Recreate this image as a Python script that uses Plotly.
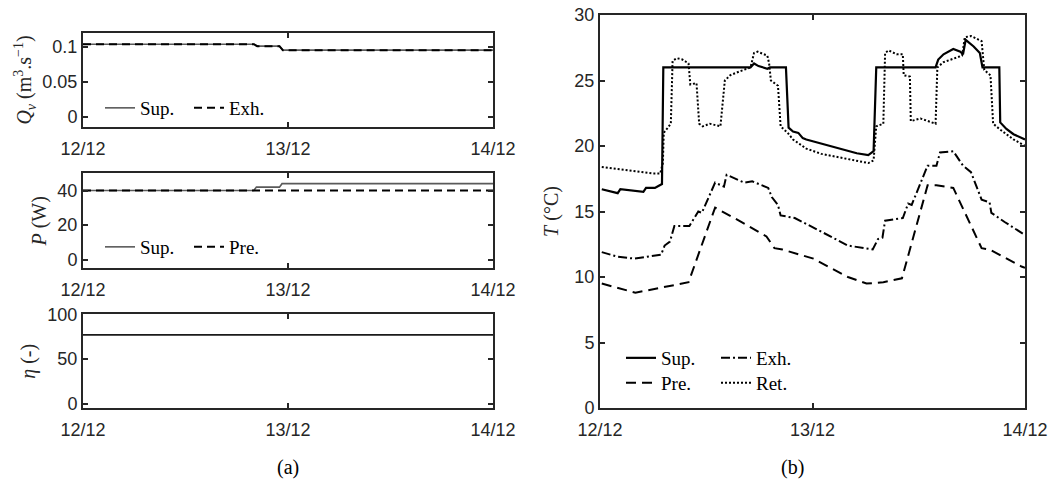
import plotly.graph_objects as go

# ---------------- data ----------------
# time in hours since 12/12 00:00
tick_hours = [0, 24, 48]
tick_labels = ["12/12", "13/12", "14/12"]

# (a) top: volumetric flow rate
qv_hours = [0, 20.0, 20.4, 23.0, 23.4, 48]
qv_sup = [0.104, 0.104, 0.1012, 0.1012, 0.0955, 0.0955]
qv_exh = [0.104, 0.104, 0.1012, 0.1012, 0.0955, 0.0955]

# (a) middle: power
p_hours = [0, 20.0, 20.3, 23.0, 23.3, 48]
p_sup = [40, 40, 42, 42, 44, 44]
p_pre = [40, 40, 40, 40, 40, 40]

# (a) bottom: efficiency
eta_hours = [0, 48]
eta_vals = [77, 77]

# (b) temperatures
sup_h = [0.2, 2.0, 2.3, 4.9, 5.2, 6.2, 7.0, 7.15, 17.0, 17.4, 17.9, 18.9, 19.2, 21.0,
         21.3, 21.8, 22.4, 22.9, 23.3, 25.0, 27.0, 29.0, 30.3, 30.9, 31.2, 37.9, 38.2,
         38.8, 39.9, 40.7, 41.0, 41.3, 42.2, 42.9, 43.2, 45.1, 45.2, 45.9, 46.7, 48.0]
sup_t = [16.7, 16.4, 16.7, 16.5, 16.8, 16.8, 17.1, 26.0, 26.0, 26.3, 26.1, 25.9, 26.0, 26.0,
         21.4, 21.1, 21.0, 20.6, 20.5, 20.2, 19.8, 19.45, 19.3, 19.6, 26.0, 26.0, 26.6,
         27.0, 27.4, 27.2, 27.0, 28.1, 27.6, 27.1, 26.0, 26.0, 21.8, 21.3, 20.9, 20.5]

exh_h = [0.2, 2.0, 3.9, 6.9, 7.3, 7.9, 8.4, 10.1, 11.1, 11.5, 13.0, 14.0, 14.3, 16.3, 17.2,
         19.0, 19.4, 20.1, 20.4, 22.0, 24.6, 28.0, 30.8, 31.4, 31.9, 32.2, 34.2, 34.8,
         35.2, 37.0, 38.0, 38.4, 39.9, 41.0, 41.9, 43.1, 44.0, 44.2, 45.7, 48.0]
exh_t = [11.9, 11.55, 11.4, 11.7, 12.4, 12.7, 13.9, 13.9, 15.0, 14.9, 17.2, 16.9, 17.8, 17.2,
         17.3, 16.8, 16.1, 15.5, 14.7, 14.5, 13.6, 12.4, 12.1, 12.9, 13.0, 14.3, 14.5, 15.6,
         15.5, 18.5, 18.5, 19.5, 19.6, 18.5, 18.0, 15.9, 15.7, 14.9, 14.2, 13.2]

pre_h = [0.2, 4.0, 10.0, 13.0, 16.5, 18.8, 19.7, 20.6, 24.1, 28.0, 30.1, 32.0, 34.1, 37.0,
         38.0, 39.9, 43.1, 44.0, 47.6, 48.0]
pre_t = [9.5, 8.8, 9.6, 15.3, 14.0, 13.1, 12.2, 12.1, 11.4, 10.0, 9.5, 9.6, 9.9, 17.0,
         17.0, 16.8, 12.2, 12.1, 10.8, 10.7]

ret_h = [0.2, 2.6, 6.0, 6.8, 7.1, 7.2, 7.8, 8.0, 8.2, 8.7, 9.3, 10.0, 10.2, 10.9, 11.2,
         11.6, 12.4, 13.6, 14.1, 14.7, 15.8, 17.0, 17.4, 17.8, 18.9, 19.1, 19.3, 20.1,
         20.4, 21.2, 21.8, 23.3, 25.0, 27.1, 30.3, 30.9, 31.2, 32.0, 32.2, 32.6, 33.5,
         34.2, 34.3, 35.0, 35.1, 36.2, 37.9, 38.1, 38.8, 40.9, 41.2, 41.9, 43.1, 43.4,
         44.1, 44.4, 45.3, 46.7, 48.0]
ret_t = [18.4, 18.2, 17.9, 17.9, 18.7, 21.0, 21.6, 21.7, 26.5, 26.7, 26.6, 26.3, 24.7, 24.8,
         21.7, 21.5, 21.7, 21.5, 25.0, 25.4, 25.7, 26.0, 27.1, 27.2, 26.9, 26.3, 25.0, 24.6,
         21.5, 21.0, 20.5, 19.8, 19.4, 19.1, 18.7, 18.9, 21.5, 21.7, 27.1, 27.3, 27.0,
         27.0, 25.4, 25.3, 21.9, 22.1, 21.7, 26.0, 26.4, 26.9, 28.3, 28.4, 28.0, 25.8,
         25.4, 21.7, 21.2, 20.5, 20.0]

# ---------------- figure ----------------
W, H = 1053, 481
AX = "#262626"
GRAY = "#5a5a5a"
SERIF = "Liberation Serif, Times New Roman, serif"
SANS = "Liberation Sans, Arial, Helvetica, sans-serif"

fig = go.Figure()

# (a) Qv
fig.add_trace(go.Scatter(x=qv_hours, y=qv_sup, mode="lines", name="Sup.",
                         line=dict(color=GRAY, width=1.6), xaxis="x", yaxis="y", legend="legend"))
fig.add_trace(go.Scatter(x=qv_hours, y=qv_exh, mode="lines", name="Exh.",
                         line=dict(color="black", width=2, dash="8px,5px"),
                         xaxis="x", yaxis="y", legend="legend"))
# (a) P
fig.add_trace(go.Scatter(x=p_hours, y=p_sup, mode="lines", name="Sup.",
                         line=dict(color=GRAY, width=1.6), xaxis="x2", yaxis="y2", legend="legend2"))
fig.add_trace(go.Scatter(x=p_hours, y=p_pre, mode="lines", name="Pre.",
                         line=dict(color="black", width=2, dash="8px,5px"),
                         xaxis="x2", yaxis="y2", legend="legend2"))
# (a) eta
fig.add_trace(go.Scatter(x=eta_hours, y=eta_vals, mode="lines", showlegend=False,
                         line=dict(color="#1a1a1a", width=1.8), xaxis="x3", yaxis="y3"))

# (b) temperatures
fig.add_trace(go.Scatter(x=sup_h, y=sup_t, mode="lines", name="Sup.",
                         line=dict(color="black", width=2.2), xaxis="x4", yaxis="y4", legend="legend3"))
fig.add_trace(go.Scatter(x=exh_h, y=exh_t, mode="lines", name="Exh.",
                         line=dict(color="black", width=2, dash="9px,3px,2px,3px"),
                         xaxis="x4", yaxis="y4", legend="legend3"))
fig.add_trace(go.Scatter(x=pre_h, y=pre_t, mode="lines", name="Pre.",
                         line=dict(color="black", width=2, dash="10px,6px"),
                         xaxis="x4", yaxis="y4", legend="legend4"))
fig.add_trace(go.Scatter(x=ret_h, y=ret_t, mode="lines", name="Ret.",
                         line=dict(color="black", width=2, dash="2px,2px"),
                         xaxis="x4", yaxis="y4", legend="legend4"))


def py(px):
    return 1 - px / H


def px_x(px):
    return px / W


common_axis = dict(showline=True, linecolor=AX, linewidth=2, mirror="ticks",
                   ticks="inside", ticklen=5, tickwidth=1.5, tickcolor=AX,
                   showgrid=False, zeroline=False, automargin=False,
                   ticklabeloverflow="allow",
                   tickfont=dict(family=SANS, size=18, color=AX))

xa_dom = [px_x(83), px_x(493)]
xb_dom = [px_x(600), px_x(1025)]

xcommon = dict(common_axis, range=[0, 48], tickvals=tick_hours, ticktext=tick_labels,
               ticklabelstandoff=4)
TFONT = dict(family=SERIF, size=20, color=AX)

layout = dict(
    width=W, height=H,
    margin=dict(l=0, r=0, t=0, b=0, pad=0, autoexpand=False),
    paper_bgcolor="white", plot_bgcolor="white",
    xaxis=dict(xcommon, domain=xa_dom, anchor="y"),
    yaxis=dict(common_axis, domain=[py(127), py(33)], anchor="x", range=[-0.0143, 0.12],
               tickvals=[0, 0.05, 0.1], ticktext=["0", "0.05", "0.1"],
               title=dict(text="<i>Q</i><sub><i>v</i></sub> (m<sup>3</sup>.s<sup>−1</sup>)",
                          font=TFONT, standoff=5)),
    xaxis2=dict(xcommon, domain=xa_dom, anchor="y2"),
    yaxis2=dict(common_axis, domain=[py(268.3), py(173.3)], anchor="x2", range=[-5, 50],
                tickvals=[0, 20, 40], ticktext=["0", "20", "40"],
                title=dict(text="<i>P</i> (W)", font=TFONT, standoff=5)),
    xaxis3=dict(xcommon, domain=xa_dom, anchor="y3"),
    yaxis3=dict(common_axis, domain=[py(408.3), py(314.3)], anchor="x3", range=[-5, 100],
                tickvals=[0, 50, 100], ticktext=["0", "50", "100"],
                title=dict(text="<i>η</i> (-)", font=TFONT, standoff=6)),
    xaxis4=dict(xcommon, domain=xb_dom, anchor="y4"),
    yaxis4=dict(common_axis, domain=[py(408), py(15)], anchor="x4", range=[0, 30],
                tickvals=[0, 5, 10, 15, 20, 25, 30],
                title=dict(text="<i>T</i> (°C)", font=TFONT, standoff=10)),
)

leg_common = dict(orientation="h", bgcolor="rgba(0,0,0,0)", borderwidth=0,
                  font=dict(family=SERIF, size=19, color="black"),
                  xanchor="left", yanchor="middle", tracegroupgap=0,
                  entrywidthmode="pixels", itemwidth=30)
layout["legend"] = dict(leg_common, x=px_x(100), y=py(108), entrywidth=44)
layout["legend2"] = dict(leg_common, x=px_x(100), y=py(247), entrywidth=44)
layout["legend3"] = dict(leg_common, x=px_x(621), y=py(358), entrywidth=50)
layout["legend4"] = dict(leg_common, x=px_x(621), y=py(383), entrywidth=50)

layout["annotations"] = [
    dict(text="(a)", x=(xa_dom[0] + xa_dom[1]) / 2, y=py(467), xref="paper", yref="paper",
         showarrow=False, font=dict(family=SERIF, size=20, color="black"),
         xanchor="center", yanchor="middle"),
    dict(text="(b)", x=px_x(792), y=py(467), xref="paper", yref="paper",
         showarrow=False, font=dict(family=SERIF, size=20, color="black"),
         xanchor="center", yanchor="middle"),
]

fig.update_layout(layout)

# remove the default page margin so the 1053x481 figure fills the window exactly
page_fix = ("document.documentElement.style.overflow='hidden';"
            "document.body.style.margin='0';document.body.style.overflow='hidden';")
fig.write_html("out.html", post_script=page_fix, config={"displayModeBar": False})
